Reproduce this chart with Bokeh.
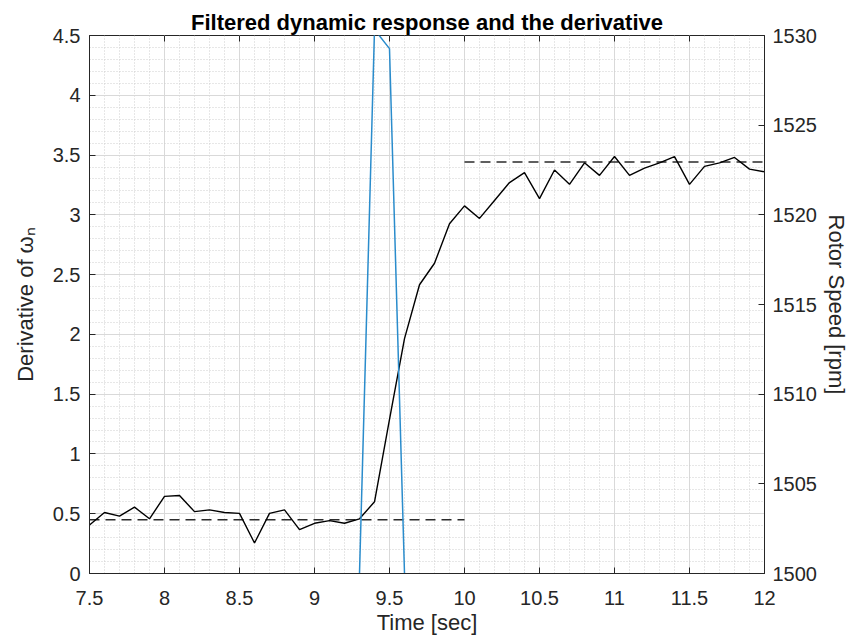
import numpy as np
from bokeh.plotting import figure
from bokeh.models import LinearAxis, Range1d, FixedTicker
from bokeh.embed import file_html
from bokeh.resources import INLINE

# ---- data ----
time_s = [7.5, 7.6, 7.7, 7.8, 7.9, 8.0, 8.1, 8.2, 8.3, 8.4, 8.5, 8.6, 8.7, 8.8, 8.9,
          9.0, 9.1, 9.2, 9.3, 9.4, 9.5, 9.6, 9.7, 9.8, 9.9, 10.0, 10.1, 10.2, 10.3,
          10.4, 10.5, 10.6, 10.7, 10.8, 10.9, 11.0, 11.1, 11.2, 11.3, 11.4, 11.5,
          11.6, 11.7, 11.8, 11.9, 12.0]
rotor_rpm = [1502.7, 1503.4, 1503.2, 1503.7, 1503.05, 1504.3, 1504.35, 1503.45, 1503.55,
             1503.4, 1503.35, 1501.7, 1503.35, 1503.55, 1502.45, 1502.8, 1502.95, 1502.8,
             1503.05, 1504.0, 1508.6, 1513.1, 1516.1, 1517.3, 1519.5, 1520.5, 1519.8,
             1520.8, 1521.8, 1522.35, 1520.9, 1522.5, 1521.7, 1522.9, 1522.2, 1523.25,
             1522.2, 1522.6, 1522.9, 1523.25, 1521.7, 1522.7, 1522.9, 1523.2, 1522.55,
             1522.4]
deriv_t = [9.3, 9.4, 9.5, 9.6]
deriv_val = [0.0, 4.55, 4.39, 0.0]
steady_lo_t = [7.5, 10.0]
steady_lo = [1503.0, 1503.0]
steady_hi_t = [10.0, 12.0]
steady_hi = [1522.95, 1522.95]

x_ticks = [7.5, 8, 8.5, 9, 9.5, 10, 10.5, 11, 11.5, 12]
left_ticks = [0, 0.5, 1, 1.5, 2, 2.5, 3, 3.5, 4, 4.5]
right_ticks = [1500, 1505, 1510, 1515, 1520, 1525, 1530]

AX = "#262626"
FONT = "Liberation Sans"

x_minor = list(np.round(np.arange(7.5, 12.0001, 0.1), 2))
y_minor = list(np.round(np.arange(0, 4.5001, 0.1), 2))

p = figure(width=853, height=639, x_range=Range1d(7.5, 12), y_range=Range1d(0, 4.5),
           output_backend="svg", toolbar_location=None,
           min_border_left=89, min_border_right=89, min_border_top=35, min_border_bottom=66,
           x_axis_location=None, y_axis_location=None)
p.extra_y_ranges = {"rpm": Range1d(1500, 1530)}

p.title.text = "Filtered dynamic response and the derivative"
p.title.align = "center"
p.title.text_font = FONT
p.title.text_font_size = "22px"
p.title.text_font_style = "bold"
p.title.text_color = "#000000"
p.title.standoff = 2

xt = FixedTicker(ticks=x_ticks, minor_ticks=x_minor)
yt = FixedTicker(ticks=left_ticks, minor_ticks=y_minor)
rt = FixedTicker(ticks=right_ticks, minor_ticks=[])


def style(ax):
    ax.major_tick_in = 6
    ax.major_tick_out = 0
    ax.minor_tick_in = 0
    ax.minor_tick_out = 0
    ax.axis_line_color = AX
    ax.major_tick_line_color = AX
    ax.major_label_text_font = FONT
    ax.major_label_text_font_size = "20px"
    ax.major_label_text_color = AX
    ax.axis_label_text_font = FONT
    ax.axis_label_text_font_size = "22px"
    ax.axis_label_text_font_style = "normal"
    ax.axis_label_text_color = AX


xb = LinearAxis(ticker=xt, axis_label="Time [sec]")
style(xb)
xb.major_label_standoff = 17
xb.axis_label_standoff = 2
p.add_layout(xb, "below")

yl = LinearAxis(ticker=yt, axis_label="Derivative of ωₙ")
style(yl)
yl.major_label_standoff = 9
yl.axis_label_standoff = 12
p.add_layout(yl, "left")

yr = LinearAxis(ticker=rt, y_range_name="rpm", axis_label="Rotor Speed [rpm]")
style(yr)
yr.major_label_standoff = 8
yr.axis_label_standoff = 4
p.add_layout(yr, "right")

p.xgrid.ticker = xt
p.ygrid.ticker = yt
for g in (p.xgrid[0], p.ygrid[0]):
    g.grid_line_color = "#d9d9d9"
    g.grid_line_width = 1
    g.minor_grid_line_color = "#cfcfcf"
    g.minor_grid_line_dash = "1 2"
    g.minor_grid_line_width = 1

p.outline_line_color = AX
p.outline_line_width = 1

# inward tick marks along the top edge (MATLAB box ticks)
tick_len = 6 * 4.5 / 538
p.segment(x0=x_ticks, x1=x_ticks, y0=[4.5] * len(x_ticks),
          y1=[4.5 - tick_len] * len(x_ticks), line_color=AX, line_width=1)

p.line(steady_lo_t, steady_lo, y_range_name="rpm", line_color="#2b2b2b",
       line_dash="10 6", line_width=1.4)
p.line(steady_hi_t, steady_hi, y_range_name="rpm", line_color="#2b2b2b",
       line_dash="10 6", line_width=1.4)
p.line(time_s, rotor_rpm, y_range_name="rpm", line_color="#000000", line_width=1.4)
p.line(deriv_t, deriv_val, line_color="#2a8ccc", line_width=1.5)

open("out.html", "w").write(file_html(p, INLINE))
